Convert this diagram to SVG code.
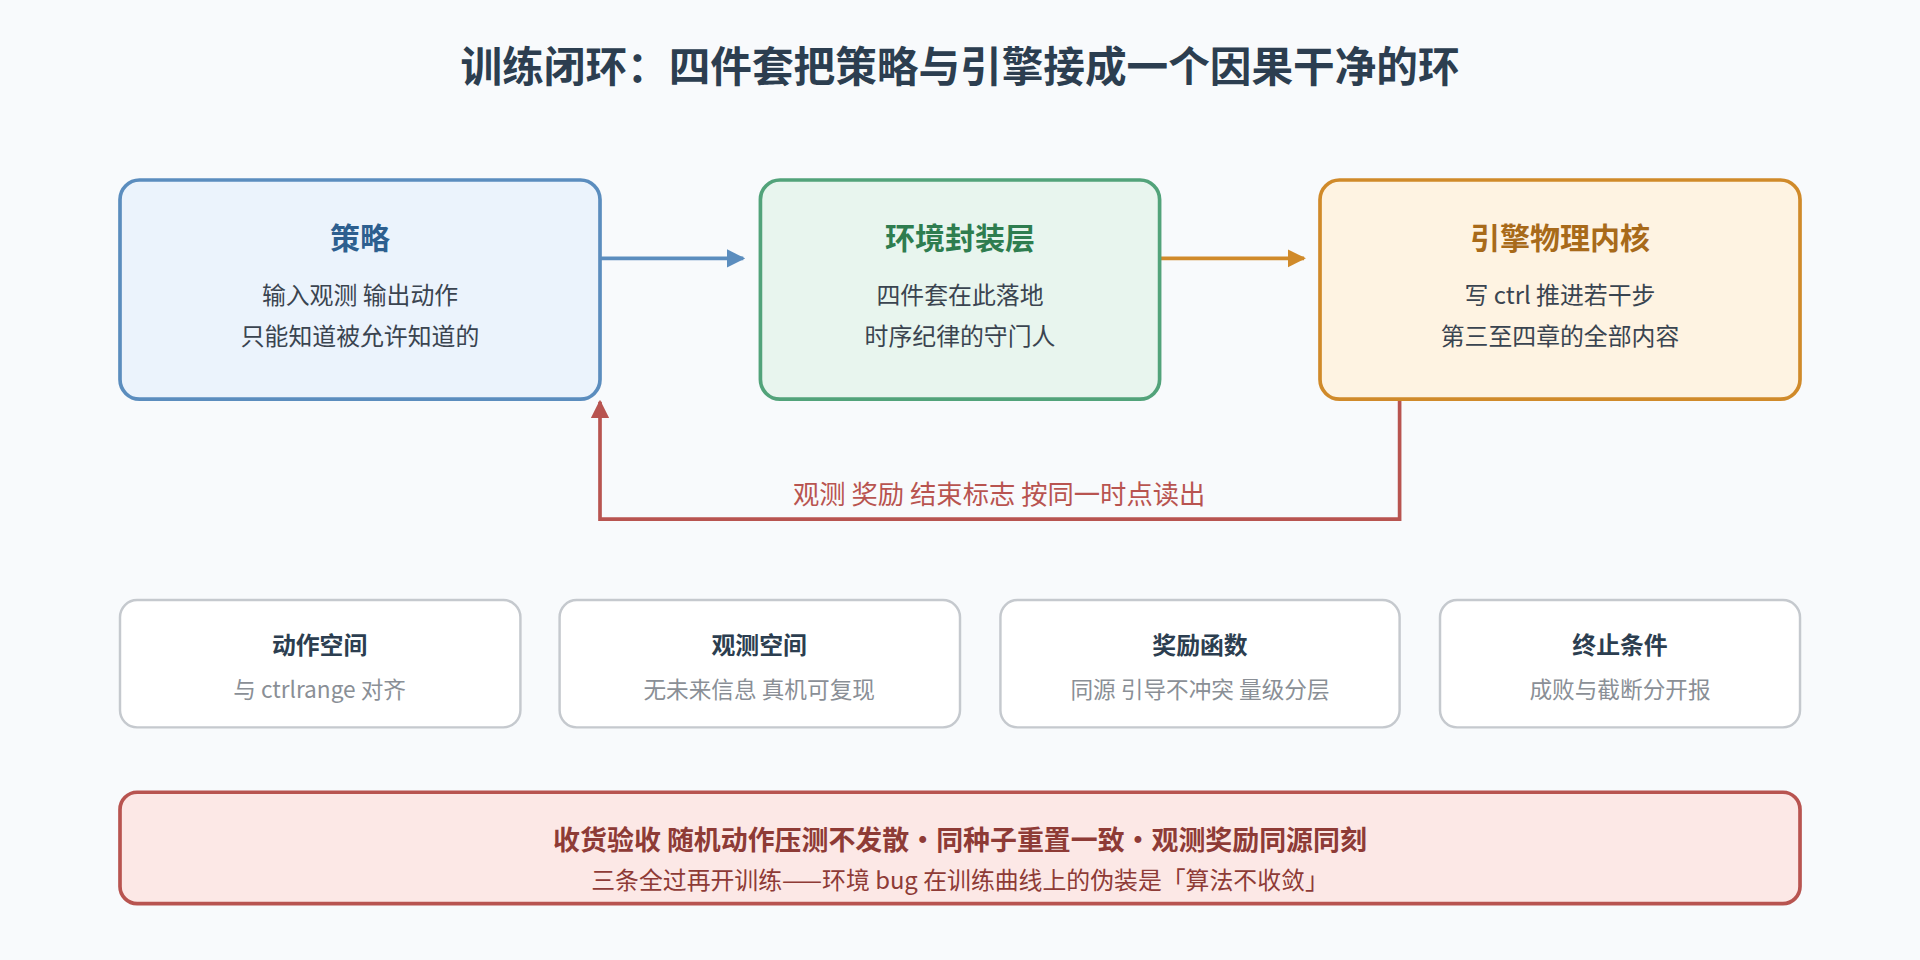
<svg xmlns="http://www.w3.org/2000/svg" width="1920" height="960" viewBox="0 0 1920 960">
<style>
text{font-family:"Noto Sans CJK SC","Noto Sans",sans-serif;text-anchor:middle}
.t{font-weight:bold;font-size:24.5px}
.b{font-size:19.5px;fill:#3a4450}
.st{font-weight:bold;font-size:19.5px;fill:#2c3e50}
.ss{font-size:18.5px;fill:#8a8f96}
.sm{fill:#fff;stroke:#c5c9ce;stroke-width:2}
</style>
<defs>
<marker id="ab" viewBox="0 0 10 10" refX="9" refY="5" markerWidth="5" markerHeight="5" orient="auto"><path d="M0,0L10,5L0,10z" fill="#5b8dbe"/></marker>
<marker id="ao" viewBox="0 0 10 10" refX="9" refY="5" markerWidth="5" markerHeight="5" orient="auto"><path d="M0,0L10,5L0,10z" fill="#d08a2a"/></marker>
<marker id="ar" viewBox="0 0 10 10" refX="9" refY="5" markerWidth="5" markerHeight="5" orient="auto"><path d="M0,0L10,5L0,10z" fill="#b85450"/></marker>
</defs>
<rect width="1920" height="960" fill="#f8fafc"/>
<g transform="scale(1.2245)">
<text x="784" y="67" style="font-size:34px;font-weight:bold;fill:#2c3e50">训练闭环：四件套把策略与引擎接成一个因果干净的环</text>
<g id="connectors" fill="none" stroke-width="3">
<path d="M490,211H607" stroke="#5b8dbe" marker-end="url(#ab)"/>
<path d="M948,211H1065" stroke="#d08a2a" marker-end="url(#ao)"/>
<path d="M1143,326V424H490V328" stroke="#b85450" marker-end="url(#ar)"/>
<text x="816" y="412" style="font-size:21.5px;fill:#b85450;stroke:none">观测 奖励 结束标志 按同一时点读出</text>
</g>
<g id="policy"><rect x="98" y="147" width="392" height="179" rx="16" fill="#ebf3fc" stroke="#5b8dbe" stroke-width="3"/>
<text x="294" y="203" class="t" fill="#2d5f8f">策略</text>
<text x="294" y="248" class="b">输入观测 输出动作</text><text x="294" y="282" class="b">只能知道被允许知道的</text></g>
<g id="env"><rect x="621" y="147" width="326" height="179" rx="16" fill="#e8f5ee" stroke="#52a37a" stroke-width="3"/>
<text x="784" y="203" class="t" fill="#2e7d4f">环境封装层</text>
<text x="784" y="248" class="b">四件套在此落地</text><text x="784" y="282" class="b">时序纪律的守门人</text></g>
<g id="engine"><rect x="1078" y="147" width="392" height="179" rx="16" fill="#fef3e2" stroke="#d08a2a" stroke-width="3"/>
<text x="1274" y="203" class="t" fill="#a86a1a">引擎物理内核</text>
<text x="1274" y="248" class="b">写 ctrl 推进若干步</text><text x="1274" y="282" class="b">第三至四章的全部内容</text></g>
<g id="action"><rect x="98" y="490" width="327" height="104" rx="14" class="sm"/><text x="261" y="534" class="st">动作空间</text><text x="261" y="570" class="ss">与 ctrlrange 对齐</text></g>
<g id="obs"><rect x="457" y="490" width="327" height="104" rx="14" class="sm"/><text x="620" y="534" class="st">观测空间</text><text x="620" y="570" class="ss">无未来信息 真机可复现</text></g>
<g id="reward"><rect x="817" y="490" width="326" height="104" rx="14" class="sm"/><text x="980" y="534" class="st">奖励函数</text><text x="980" y="570" class="ss">同源 引导不冲突 量级分层</text></g>
<g id="term"><rect x="1176" y="490" width="294" height="104" rx="14" class="sm"/><text x="1323" y="534" class="st">终止条件</text><text x="1323" y="570" class="ss">成败与截断分开报</text></g>
<g id="accept"><rect x="98" y="647" width="1372" height="91" rx="14" fill="#fce8e6" stroke="#b85450" stroke-width="3"/>
<text x="784" y="694" style="font-size:22px;font-weight:bold;fill:#8e3b36">收货验收 随机动作压测不发散•同种子重置一致•观测奖励同源同刻</text>
<text x="784" y="726" style="font-size:19.5px;fill:#8e3b36">三条全过再开训练——环境 bug 在训练曲线上的伪装是「算法不收敛」</text></g>
</g>
</svg>
